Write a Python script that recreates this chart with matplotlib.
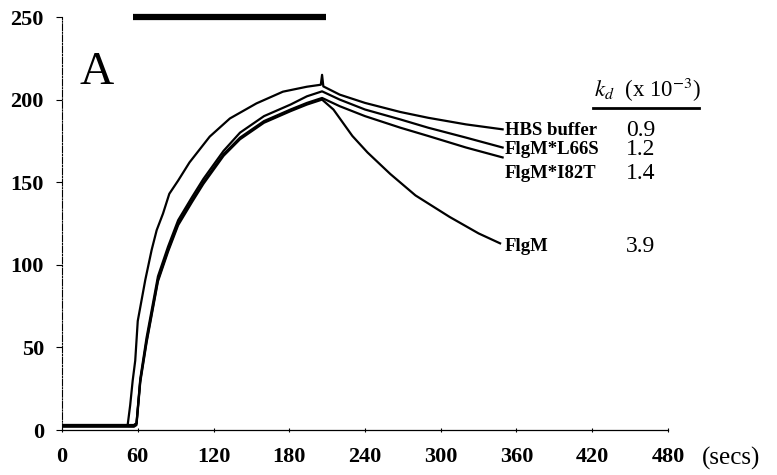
import numpy as np
import matplotlib.pyplot as plt

plt.rcParams['font.family'] = ['Liberation Serif', 'DejaVu Serif']
plt.rcParams['mathtext.fontset'] = 'stix'

# association phase (time in s, response units)
t_outer = [0, 50, 52, 54, 56, 58, 60, 66, 71, 75, 80, 85, 92, 101, 117, 133, 154, 175, 194, 205]
r_outer = [3, 3, 3, 15, 30, 42, 66, 91, 109, 121, 131, 143, 151, 162, 177.6, 188.6, 197.7, 204.8, 207.8, 209]

t_inner = [0, 50, 57, 59, 62, 67, 76, 84, 92, 103, 112, 128, 141, 160, 181, 194, 206]
r_l66s = [3, 3, 3, 4, 31, 56, 93, 111, 127, 141, 152, 169, 180, 190, 197, 202, 205]
r_i82t = [3, 3, 3, 4, 30, 54, 91, 109, 125, 139, 150, 167, 177, 187, 194, 198, 201]
r_flgm = [2, 2, 2, 3, 29, 53, 90, 108, 124, 138, 149, 166, 176, 186, 193, 197, 200]

# dissociation phase
t_off_hbs = [205, 206, 207, 220, 240, 268, 290, 320, 349]
r_off_hbs = [209, 215, 208, 203, 198, 192.5, 189, 185, 182]
t_off = [206, 220, 240, 268, 290, 320, 349]
r_off_l66s = [205, 200, 194, 188, 183, 177, 171]
r_off_i82t = [201, 196, 190, 183, 178, 171, 165]
t_off_flgm = [206, 215, 230, 242, 260, 280, 307, 330, 347]
r_off_flgm = [200, 194, 178, 168, 155, 142, 129, 119, 113]

labels = ['HBS buffer', 'FlgM*L66S', 'FlgM*I82T', 'FlgM']
kd_vals = ['0.9', '1.2', '1.4', '3.9']
label_y = [181.6, 170, 155.5, 111]

injection = [56, 209]

fig = plt.figure(figsize=(7.77, 4.75), dpi=100)
ax = fig.add_axes([0.0798, 0.0947, 0.7799, 0.8695])

lw = 1.6
ax.plot(t_outer + t_off_hbs, r_outer + r_off_hbs, color='black', lw=lw)
ax.plot(t_inner + t_off, r_l66s + r_off_l66s, color='black', lw=lw)
ax.plot(t_inner + t_off, r_i82t + r_off_i82t, color='black', lw=lw)
ax.plot(t_inner + t_off_flgm, r_flgm + r_off_flgm, color='black', lw=lw)

# injection bar
ax.plot(injection, [250, 250], color='black', lw=4.5, solid_capstyle='butt', clip_on=False)

ax.set_xlim(0, 480)
ax.set_ylim(0, 250)
ax.set_xticks(np.arange(0, 481, 60))
ax.set_yticks(np.arange(0, 251, 50))

for s in ['top', 'right']:
    ax.spines[s].set_visible(False)
ax.spines['left'].set_linestyle((0, (6, 1.5, 1, 1.5)))
ax.spines['left'].set_linewidth(0.8)
ax.spines['bottom'].set_linewidth(0.9)
ax.tick_params(axis='y', direction='out', length=4, width=0.8, pad=9)
ax.tick_params(axis='x', direction='inout', length=3, width=0.8, pad=11)
for lab in ax.get_xticklabels() + ax.get_yticklabels():
    lab.set_fontweight('bold')
    lab.set_fontsize(16)

ax.text(507, -17, '(secs)', fontsize=18, ha='left', va='center', clip_on=False)
ax.text(14, 216.5, 'A', fontsize=34, ha='left', va='center')

for lab, kd, y in zip(labels, kd_vals, label_y):
    ax.text(351, y, lab, fontsize=13.5, fontweight='bold', ha='left', va='center')
    ax.text(447, y, kd, fontsize=17, ha='left', va='center', clip_on=False)

ax.text(421, 206, r'$k_d$  (x 10$^{-3}$)', fontsize=16.5, ha='left', va='center', clip_on=False)
ax.plot([420.5, 504.5], [195, 195], color='black', lw=2, clip_on=False)

fig.savefig('out.png', dpi=100)
